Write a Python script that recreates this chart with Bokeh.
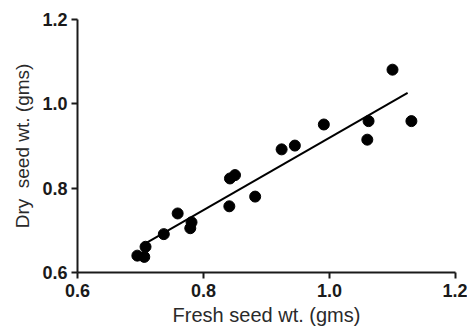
from bokeh.plotting import figure
from bokeh.models import Range1d, FixedTicker, PrintfTickFormatter
from bokeh.embed import file_html
from bokeh.resources import INLINE

fresh_wt = [0.695, 0.706, 0.708, 0.737, 0.759, 0.779, 0.781, 0.841, 0.842, 0.850,
            0.882, 0.924, 0.945, 0.991, 1.060, 1.062, 1.100, 1.130]
dry_wt = [0.640, 0.637, 0.661, 0.691, 0.740, 0.705, 0.719, 0.757, 0.823, 0.831,
          0.780, 0.892, 0.901, 0.951, 0.915, 0.959, 1.081, 0.959]
fit_x = [0.708, 1.124]
fit_y = [0.669, 1.026]
ticks = [0.6, 0.8, 1.0, 1.2]

p = figure(width=467, height=331, output_backend="svg", toolbar_location=None,
           x_range=Range1d(0.6, 1.2), y_range=Range1d(0.6, 1.2),
           min_border_left=77, min_border_right=12, min_border_top=19, min_border_bottom=59)
p.outline_line_color = None
p.xgrid.visible = False
p.ygrid.visible = False

p.line(fit_x, fit_y, line_color="black", line_width=2)
p.scatter(fresh_wt, dry_wt, size=11, fill_color="black", line_color="black")

for ax in (p.xaxis[0], p.yaxis[0]):
    ax.ticker = FixedTicker(ticks=ticks)
    ax.formatter = PrintfTickFormatter(format="%.1f")
    ax.minor_tick_line_color = None
    ax.axis_line_width = 2
    ax.major_tick_line_width = 2
    ax.major_tick_out = 6
    ax.major_tick_in = 0
    ax.major_label_text_font = "Liberation Sans"
    ax.major_label_text_font_style = "bold"
    ax.major_label_text_font_size = "18px"
    ax.major_label_text_color = "#1a1a1a"
    ax.axis_label_text_font = "Liberation Sans"
    ax.axis_label_text_font_style = "normal"
    ax.axis_label_text_color = "#2a2a2a"
    ax.axis_line_color = "#1a1a1a"
    ax.major_tick_line_color = "#1a1a1a"

p.xaxis[0].axis_label = "Fresh seed wt. (gms)"
p.yaxis[0].axis_label = "Dry\u00a0 seed wt. (gms)"
p.xaxis[0].axis_label_text_font_size = "20px"
p.yaxis[0].axis_label_text_font_size = "19px"
p.xaxis[0].major_label_standoff = 5
p.yaxis[0].major_label_standoff = 4
p.xaxis[0].axis_label_standoff = 4
p.yaxis[0].axis_label_standoff = 6

open("out.html", "w").write(file_html(p, INLINE))
